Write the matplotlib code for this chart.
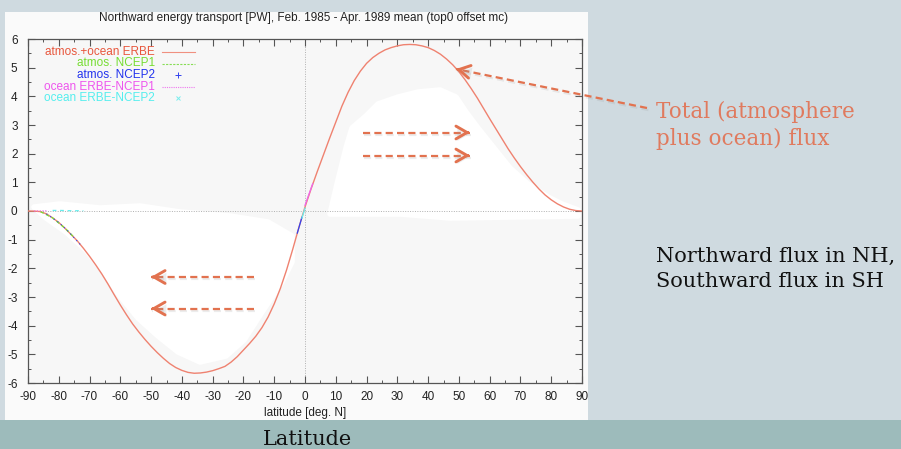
import matplotlib
matplotlib.use("Agg")
import matplotlib.pyplot as plt
from matplotlib.patches import Rectangle, FancyArrowPatch, Polygon
from matplotlib.ticker import MultipleLocator
import matplotlib.patheffects as pe

plt.rcParams["axes.unicode_minus"] = False

# ---- data ----
lat_total = [-90, -88, -86, -84, -82, -80, -78, -76, -74, -72, -70, -68, -66, -64, -62, -60,
             -58, -56, -54, -52, -50, -48, -46, -44, -42, -40, -38, -36, -34, -32, -30, -28,
             -26, -24, -22, -20, -18, -16, -14, -12, -10, -8, -6, -4, -2, 0, 2,
             4, 6, 8, 10, 12, 14, 16, 18, 20, 22, 24, 26, 28, 30, 32, 34, 36, 38, 40, 42, 44,
             46, 48, 50, 52, 54, 56, 58, 60, 62, 64, 66, 68, 70, 72, 74, 76, 78, 80, 82, 84,
             86, 88, 90]
flux_total = [0.0, -0.005, -0.02, -0.1, -0.24, -0.4, -0.6, -0.82, -1.04, -1.3, -1.58, -1.88,
              -2.2, -2.55, -2.92, -3.28, -3.62, -3.94, -4.22, -4.48, -4.72, -4.94, -5.14, -5.32,
              -5.46, -5.56, -5.63, -5.66, -5.65, -5.62, -5.57, -5.5, -5.42, -5.27, -5.08, -4.85,
              -4.62, -4.37, -4.07, -3.7, -3.24, -2.7, -2.06, -1.34, -0.58, 0.14, 0.78,
              1.38, 1.96, 2.54, 3.1, 3.66, 4.14, 4.55, 4.88, 5.15, 5.35, 5.5, 5.62,
              5.7, 5.76, 5.8, 5.81, 5.8, 5.76, 5.7, 5.6, 5.47, 5.3, 5.1, 4.86, 4.58, 4.27, 3.94,
              3.58, 3.22, 2.87, 2.52, 2.17, 1.85, 1.55, 1.27, 1.01, 0.77, 0.56, 0.39, 0.25, 0.14,
              0.06, 0.015, 0.0]

lat_ncep1 = [-86, -82, -78, -75]
flux_ncep1 = [-0.02, -0.24, -0.6, -0.92]
lat_ncep2 = [-84, -80, -77, -73, -2.5, -1.0]
flux_ncep2 = [-0.1, -0.4, -0.7, -1.17, -0.77, -0.22]
lat_ocean1 = [-88, -84, 0.0, 1.0, 2.5]
flux_ocean1 = [0.0, 0.01, 0.2, 0.5, 0.95]
lat_ocean2 = [-82, -79.5, -76, -72, -1.0, 0.0]
flux_ocean2 = [0.02, 0.02, 0.01, 0.01, -0.25, 0.1]

legend_labels = ["atmos.+ocean ERBE", "atmos. NCEP1", "atmos. NCEP2",
                 "ocean ERBE-NCEP1", "ocean ERBE-NCEP2"]
xticks = list(range(-90, 91, 10))
yticks = list(range(-6, 7, 1))

title = "Northward energy transport [PW], Feb. 1985 - Apr. 1989 mean (top0 offset mc)"

W, H = 901, 449
fig = plt.figure(figsize=(W / 100, H / 100), dpi=100)
fig.patch.set_facecolor("#cfdae0")

def fx(px):
    return px / W

def fy(py):
    return 1 - py / H

FS = 8.5
SANS = "Liberation Sans"

# bottom band and white panel
fig.patches.append(Rectangle((0, 0), 1, fy(420), transform=fig.transFigure,
                             facecolor="#9dbbbb", edgecolor="none", zorder=0))
fig.patches.append(Rectangle((fx(5), fy(420)), fx(588) - fx(5), fy(12) - fy(420),
                             transform=fig.transFigure, facecolor="#fafafa",
                             edgecolor="none", zorder=0))
fig.patches.append(Rectangle((fx(28), fy(383)), fx(582) - fx(28), fy(39) - fy(383),
                             transform=fig.transFigure, facecolor="#f7f7f7",
                             edgecolor="none", zorder=1))

# white painted blobs (slide decoration)
blob_n = [(330, 214), (338, 180), (346, 148), (352, 128), (366, 116), (378, 104), (398, 97),
          (418, 92), (440, 90), (456, 97), (466, 112), (478, 128), (494, 148), (510, 168),
          (528, 184), (548, 197), (562, 204), (578, 210), (578, 216), (450, 218), (400, 214)]
blob_s = [(34, 207), (60, 204), (100, 208), (140, 206), (180, 212), (230, 216), (268, 222),
          (292, 236), (292, 262), (282, 282), (262, 312), (244, 340), (226, 356), (200, 362),
          (178, 352), (158, 336), (138, 318), (120, 296), (104, 272), (86, 250), (66, 232),
          (46, 218)]
for blob in (blob_n, blob_s):
    fig.patches.append(Polygon([(fx(a), fy(b)) for a, b in blob], closed=True,
                               transform=fig.transFigure, facecolor="white",
                               edgecolor="white", linewidth=4, joinstyle="round", zorder=1.5))

ax = fig.add_axes([fx(28), fy(383), fx(582) - fx(28), fy(39) - fy(383)])
ax.set_zorder(2)
ax.patch.set_alpha(0)

ax.axhline(0, color="#b0b0b0", lw=0.7, ls=(0, (1, 1.5)), zorder=1)
ax.axvline(0, color="#b0b0b0", lw=0.7, ls=(0, (1, 1.5)), zorder=1)

c_tot = "#ef8270"
ax.plot(lat_total, flux_total, color=c_tot, lw=1.0, zorder=3)
ax.plot(lat_ncep1, flux_ncep1, color="#77dd33", lw=0.9, ls=(0, (3, 2)), zorder=4)
ax.plot(lat_ncep2[:4], flux_ncep2[:4], color="#3344ee", lw=0.8, ls=(0, (1, 3)), zorder=4)
ax.plot(lat_ncep2[4:], flux_ncep2[4:], color="#3344ee", lw=0.9, zorder=4)
ax.plot(lat_ocean1[:2], flux_ocean1[:2], color="#ee66ee", lw=0.8, ls=(0, (1, 1.5)), zorder=4)
ax.plot(lat_ocean1[2:], flux_ocean1[2:], color="#ee66ee", lw=0.9, zorder=4)
ax.plot(lat_ocean2[:4], flux_ocean2[:4], color="#66eeee", lw=0.9, ls=(0, (3, 3)), zorder=4)
ax.plot(lat_ocean2[4:], flux_ocean2[4:], color="#66eeee", lw=0.9, zorder=4)

ax.set_xlim(-90, 90)
ax.set_ylim(-6, 6)
ax.set_xticks(xticks)
ax.set_yticks(yticks)
ax.xaxis.set_minor_locator(MultipleLocator(5))
ax.yaxis.set_minor_locator(MultipleLocator(0.5))
ax.tick_params(which="both", direction="in", top=True, right=True, color="#555555",
               labelsize=FS, labelcolor="#222222")
ax.tick_params(which="major", length=5, width=0.8)
ax.tick_params(which="minor", length=2.5, width=0.7)
ax.tick_params(axis="x", pad=5.5)
ax.tick_params(axis="y", pad=7.5)
for lab in ax.get_xticklabels() + ax.get_yticklabels():
    lab.set_family(SANS)
for s in ax.spines.values():
    s.set_color("#555555")
    s.set_linewidth(0.9)

ax.set_xlabel("latitude [deg. N]", fontsize=FS, family=SANS, color="#222222", labelpad=3)
fig.text(fx(304), fy(18), title, fontsize=FS, family=SANS, color="#222222",
         ha="center", va="center")

# legend (gnuplot style)
leg_colors = ["#e8563c", "#77dd33", "#2233ee", "#ee55ee", "#55eeee"]
leg_y = [52, 63.5, 75, 86.5, 98]
for lab, col, yy in zip(legend_labels, leg_colors, leg_y):
    fig.text(fx(155), fy(yy), lab, fontsize=FS, family=SANS, color=col,
             ha="right", va="center", zorder=5)
sample_y = [fy(v) for v in leg_y]
fig.lines.append(plt.Line2D([fx(162), fx(195)], [sample_y[0]] * 2, transform=fig.transFigure,
                            color="#f09080", lw=0.8))
fig.lines.append(plt.Line2D([fx(162), fx(195)], [sample_y[1]] * 2, transform=fig.transFigure,
                            color="#88dd55", lw=0.8, ls=(0, (2, 1.2))))
fig.lines.append(plt.Line2D([fx(178)], [sample_y[2]], transform=fig.transFigure,
                            color="#3344ee", marker="+", ms=4, mew=0.7, ls="none"))
fig.lines.append(plt.Line2D([fx(162), fx(195)], [sample_y[3]] * 2, transform=fig.transFigure,
                            color="#ee77ee", lw=0.8, ls=(0, (1, 1))))
fig.lines.append(plt.Line2D([fx(178)], [sample_y[4]], transform=fig.transFigure,
                            color="#77eeee", marker="x", ms=3.5, mew=0.7, ls="none"))

# slide annotations
ac = "#e2724f"
shadow = [pe.SimpleLineShadow(offset=(1.0, -1.5), shadow_color="#999999", alpha=0.18),
          pe.Normal()]
pshadow = [pe.SimplePatchShadow(offset=(1.0, -1.5), shadow_rgbFace="#999999", alpha=0.18),
           pe.Normal()]

def arrow(x0, y0, x1, y1):
    fig.lines.append(plt.Line2D([fx(x0), fx(x1)], [fy(y0), fy(y1)], transform=fig.transFigure,
                                color=ac, lw=1.6, ls=(0, (3.2, 1.9)), zorder=10,
                                path_effects=shadow))
    dx, dy = x1 - x0, y1 - y0
    n = (dx * dx + dy * dy) ** 0.5
    xs, ys = x1 - dx / n * 2, y1 - dy / n * 2
    a = FancyArrowPatch((fx(xs), fy(ys)), (fx(x1), fy(y1)), transform=fig.transFigure,
                        arrowstyle="->,head_length=8,head_width=4.6", color=ac, lw=2.1,
                        zorder=11, shrinkA=0, shrinkB=0, capstyle="round",
                        joinstyle="miter", path_effects=pshadow)
    fig.patches.append(a)

arrow(647, 108, 456, 69)
arrow(363, 132.5, 470, 132.5)
arrow(363, 155.5, 470, 155.5)
arrow(254, 277, 151, 277)
arrow(254, 308.5, 151, 308.5)

fig.text(fx(656), fy(145), "Total (atmosphere\nplus ocean) flux", fontsize=15.5,
         family="DejaVu Serif", color="#e07a5e", ha="left", va="baseline",
         linespacing=1.3)
fig.text(fx(656), fy(287), "Northward flux in NH,\nSouthward flux in SH", fontsize=15,
         family="DejaVu Serif", color="#111111", ha="left", va="baseline",
         linespacing=1.42)
fig.text(fx(308), fy(445), "Latitude", fontsize=15, family="DejaVu Serif",
         color="#111111", ha="center", va="baseline")

fig.savefig("out.png", dpi=100, facecolor=fig.get_facecolor())
